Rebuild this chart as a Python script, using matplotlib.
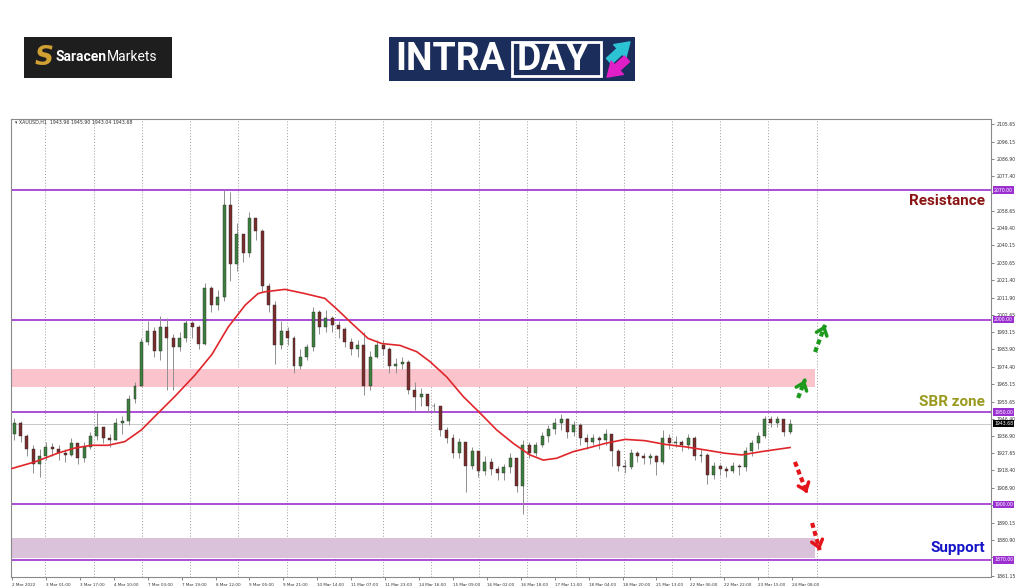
import numpy as np
import matplotlib
matplotlib.use("Agg")
from matplotlib import pyplot as plt
from matplotlib.patches import Rectangle, FancyArrowPatch
from matplotlib.transforms import IdentityTransform

# XAUUSD H1, grouped into 3-hour candles
first_open = 1938
closes = [1944, 1937, 1930, 1922, 1926, 1931, 1930, 1928, 1927, 1933,
          1925, 1931, 1937, 1942, 1936, 1935, 1944, 1945, 1957, 1964,
          1988, 1994, 1983, 1996, 1990, 1985, 1990, 1998, 1996, 1987,
          2017, 2008, 2012, 2062, 2030, 2046, 2036, 2055, 2048, 2018,
          2008, 1986, 1994, 1990, 1975, 1980, 1985, 2004, 1996, 2001,
          1997, 1995, 1988, 1984, 1986, 1964, 1980, 1986, 1984, 1975,
          1976, 1977, 1962, 1958, 1960, 1953, 1953, 1940, 1936, 1928,
          1934, 1921, 1929, 1918, 1923, 1919, 1917, 1920, 1925, 1910,
          1932, 1928, 1932, 1937, 1941, 1944, 1946, 1939, 1943, 1936,
          1934, 1936, 1935, 1938, 1929, 1921, 1920, 1928, 1926, 1925,
          1926, 1923, 1936, 1933, 1934, 1932, 1936, 1926, 1927, 1916,
          1921, 1919, 1918, 1921, 1920, 1929, 1933, 1937, 1946, 1944,
          1946, 1939, 1943.68]
highs = [1947, 1945, 1938, 1932, 1930, 1934, 1933, 1932, 1930, 1936,
         1933, 1934, 1939, 1950, 1942, 1938, 1947, 1948, 1959, 1966,
         1990, 1999, 1996, 2002, 2001, 1992, 1993, 2000, 1999, 1997,
         2020, 2018, 2016, 2070, 2069, 2052, 2043, 2058, 2054, 2049,
         2020, 2010, 1999, 1996, 1991, 1984, 1987, 2007, 2005, 2005,
         2002, 1999, 1996, 1990, 1989, 1993, 1983, 1989, 1989, 1985,
         1979, 1980, 1978, 1966, 1963, 1958, 1955, 1953, 1942, 1938,
         1936, 1932, 1931, 1929, 1926, 1925, 1921, 1922, 1928, 1925,
         1935, 1934, 1934, 1939, 1943, 1947, 1949, 1947, 1945, 1944,
         1938, 1938, 1937, 1941, 1938, 1930, 1924, 1930, 1929, 1928,
         1928, 1927, 1940, 1938, 1937, 1935, 1938, 1937, 1930, 1928,
         1923, 1922, 1921, 1923, 1922, 1931, 1935, 1939, 1948, 1948,
         1948, 1946, 1946]
lows = [1935, 1934, 1926, 1917, 1915, 1924, 1926, 1924, 1923, 1926,
        1922, 1923, 1930, 1935, 1933, 1931, 1936, 1938, 1943, 1955,
        1966, 1986, 1980, 1978, 1962, 1962, 1983, 1988, 1990, 1984,
        1986, 2004, 2005, 2010, 2021, 2026, 2031, 2034, 2043, 2015,
        2004, 1976, 1984, 1986, 1971, 1973, 1978, 1983, 1992, 1993,
        1993, 1990, 1985, 1981, 1980, 1959, 1962, 1979, 1981, 1971,
        1971, 1973, 1960, 1951, 1953, 1950, 1950, 1937, 1933, 1925,
        1925, 1907, 1919, 1915, 1916, 1916, 1913, 1913, 1917, 1907,
        1895, 1925, 1926, 1931, 1934, 1938, 1940, 1936, 1937, 1932,
        1930, 1932, 1930, 1932, 1921, 1918, 1917, 1919, 1923, 1922,
        1922, 1916, 1922, 1930, 1931, 1929, 1930, 1924, 1923, 1911,
        1914, 1916, 1915, 1917, 1916, 1918, 1926, 1930, 1936, 1942,
        1942, 1937, 1938]

# moving average (bar index, price)
ma_bars = [0, 10.7, 21.7, 29.6, 37.3, 45.3, 53.2, 61, 68.9, 76.7, 86.3, 94.2,
           102, 110, 116, 119.3, 128.8, 138.2, 147.6, 153.8, 160.2, 167.9,
           174.4, 183, 190.9, 197.2, 205, 212.9, 220.8, 228.6, 236.5, 244.3,
           250.6, 256.9, 264.8, 272.6, 279.7, 289.2, 298.6, 308, 317.5,
           326.9, 336.3, 344.2, 353.6, 367]
ma_vals = [1919.5, 1923, 1927.8, 1930.5, 1932, 1932, 1934, 1940.3, 1949.4,
           1958.3, 1970, 1981, 1996, 2007.8, 2014, 2015, 2016.3, 2014,
           2011.4, 2005, 1998, 1989.8, 1987, 1986, 1982.6, 1977.2, 1969,
           1958.3, 1949.4, 1940.3, 1933, 1926.8, 1924, 1925, 1928.6, 1930.8,
           1933, 1935.2, 1934.5, 1932.5, 1931.2, 1929.5, 1927.7, 1926.8,
           1928.6, 1930.8]

time_labels = ["2 Mar 2022", "3 Mar 01:00", "3 Mar 17:00", "4 Mar 10:00",
               "7 Mar 03:00", "7 Mar 19:00", "8 Mar 12:00", "9 Mar 05:00",
               "9 Mar 21:00", "10 Mar 14:00", "11 Mar 07:00", "11 Mar 23:00",
               "14 Mar 16:00", "15 Mar 09:00", "16 Mar 02:00", "16 Mar 18:00",
               "17 Mar 11:00", "18 Mar 04:00", "18 Mar 20:00", "21 Mar 13:00",
               "22 Mar 06:00", "22 Mar 22:00", "23 Mar 15:00", "24 Mar 08:00"]
day_starts = [15.7, 38.7, 61.3, 84, 106.8, 129.6, 152.4, 174.9, 197.6, 220.4,
              243, 265.9, 288.8, 311.5, 334.1, 356.8, 379.5]
price_ticks = [2105.65, 2096.15, 2086.90, 2077.40, 2068.15, 2058.65, 2049.40,
               2040.15, 2030.65, 2021.40, 2011.90, 2002.65, 1993.15, 1983.90,
               1974.40, 1965.15, 1955.65, 1946.40, 1936.90, 1927.65, 1918.40,
               1908.90, 1899.65, 1890.15, 1880.90, 1871.40, 1861.15]
hidden_ticks = [2068.15, 1899.65, 1871.40]  # sit under the level boxes
levels = [2070, 2000, 1950, 1900, 1870]
last_price = 1943.68
sbr_zone = (1963.5, 1973.5)
support_zone = (1871, 1882)
zone_end = 378.8

PURPLE = "#9b30d0"


def draw_candles(ax):
    opens = [first_open] + closes[:-1]
    xs = np.arange(len(closes)) * 3 + 1
    for x, o, h, l, c in zip(xs, opens, highs, lows, closes):
        h = max(h, o, c)
        l = min(l, o, c)
        up = c >= o
        ax.vlines(x, l, h, color="#8f8f8f", lw=0.7, zorder=3)
        bottom = min(o, c)
        height = max(abs(c - o), 0.4)
        ax.bar(x, height, bottom=bottom, width=1.4,
               color="#3d7f3d" if up else "#7b2c2c",
               edgecolor="#2b2b2b", linewidth=0.3, zorder=4)


def draw_arrow(ax, tail, head, color):
    ax.plot([tail[0], head[0]], [tail[1], head[1]], color=color, lw=3,
            ls=(0, (1.2, 0.8)), solid_capstyle="butt", zorder=6)
    back = (head[0] - (head[0] - tail[0]) * 0.15, head[1] - (head[1] - tail[1]) * 0.15)
    ax.annotate("", xy=head, xytext=back,
                arrowprops=dict(arrowstyle="->,head_length=0.5,head_width=0.4",
                                color=color, lw=2.5), zorder=6)


fig = plt.figure(figsize=(10.24, 5.87), dpi=100)
fig.patch.set_facecolor("white")
ax = fig.add_axes([11 / 1024, 1 - 577 / 587, 980 / 1024, 458 / 587])
ax.set_xlim(-0.5, 461.8)
ax.set_ylim(1860.8, 2108.4)

for d in day_starts:
    ax.axvline(d, color="#9a9a9a", lw=0.7, ls=(0, (1, 2)), zorder=1)

ax.add_patch(Rectangle((-0.5, sbr_zone[0]), zone_end + 0.5, sbr_zone[1] - sbr_zone[0],
                       facecolor="#fbc3cc", edgecolor="none", zorder=1.5))
ax.add_patch(Rectangle((-0.5, support_zone[0]), zone_end + 0.5, support_zone[1] - support_zone[0],
                       facecolor="#d9c2da", edgecolor="none", zorder=1.5))

ax.axhline(last_price, color="#c8c8c8", lw=0.7, zorder=2)
for lv in levels:
    ax.axhline(lv, color=PURPLE, lw=1.2, zorder=2.5)

draw_candles(ax)
ax.plot(ma_bars, ma_vals, color="#e0262a", lw=1.2, zorder=5)

draw_arrow(ax, (370.8, 1957.6), (374, 1967.3), "#1d9a1d")
draw_arrow(ax, (378.8, 1982.4), (383.5, 1997), "#1d9a1d")
draw_arrow(ax, (369.3, 1923), (375, 1906.2), "#e3141a")
draw_arrow(ax, (377.4, 1890), (381, 1875.4), "#e3141a")

ax.text(459, 2070 - 6, "Resistance", ha="right", va="center", fontsize=11,
        fontweight="bold", family="Roboto", color="#8b1414")
ax.text(459, 1950 + 5.5, "SBR zone", ha="right", va="center", fontsize=11,
        fontweight="bold", family="Roboto", color="#9a9a20")
ax.text(459, 1870 + 6.5, "Support", ha="right", va="center", fontsize=11,
        fontweight="bold", family="Roboto", color="#1515c8")

ax.text(1.5, 2106.5, "\u25be XAUUSD,H1  1943.96 1945.90 1943.04 1943.68",
        fontsize=3.4, color="#333333", va="center", zorder=7)

# axes / ticks
for sp in ax.spines.values():
    sp.set_color("#8a8a8a")
    sp.set_linewidth(0.8)
ax.set_xticks(np.arange(len(time_labels)) * 16)
ax.set_xticklabels(time_labels, fontsize=3.0, color="#333333", ha="left")
ax.tick_params(axis="x", length=2, width=0.5, pad=2, colors="#555555")
ax.yaxis.tick_right()
ax.set_yticks(price_ticks)
ax.set_yticklabels(["" if p in hidden_ticks else f"{p:.2f}" for p in price_ticks],
                   fontsize=3.3)
ax.tick_params(axis="y", length=2, width=0.5, pad=2, colors="#555555")
for lbl in ax.get_xticklabels() + ax.get_yticklabels():
    lbl.set_color("#333333")

for lv in levels:
    ax.text(1.003, lv, f"{lv:.2f}", transform=ax.get_yaxis_transform(),
            fontsize=3.3, color="white", va="center", ha="left", zorder=8, clip_on=False,
            bbox=dict(boxstyle="square,pad=0.25", facecolor=PURPLE, edgecolor="none"))
ax.text(1.003, last_price, f"{last_price:.2f}", transform=ax.get_yaxis_transform(),
        fontsize=3.3, color="white", va="center", ha="left", zorder=8, clip_on=False,
        bbox=dict(boxstyle="square,pad=0.25", facecolor="black", edgecolor="none"))

# header logos
fig.patches.append(Rectangle((24, 587 - 78), 148, 41, transform=IdentityTransform(),
                             facecolor="#1e1e1e", edgecolor="none"))
fig.text(35 / 1024, 1 - 58 / 587, "S", fontsize=19, fontweight="bold", style="italic",
         color="#d1a032", ha="left", va="center")
fig.text(56 / 1024, 1 - 57 / 587, "Saracen", fontsize=10, fontweight="bold",
         family="Roboto", color="white", ha="left", va="center")
fig.text(106.5 / 1024, 1 - 57 / 587, "Markets", fontsize=10,
         family="Roboto", color="white", ha="left", va="center")

fig.patches.append(Rectangle((389, 587 - 81), 246, 44, transform=IdentityTransform(),
                             facecolor="#1b2d5b", edgecolor="none"))
fig.patches.append(Rectangle((512, 587 - 76), 89, 34, transform=IdentityTransform(),
                             facecolor="none", edgecolor="white", linewidth=2))
fig.text(395 / 1024, 1 - 59.5 / 587, "INTRA", fontsize=27, fontweight="bold",
         family="Roboto", color="white", ha="left", va="center")
fig.text(517 / 1024, 1 - 59.5 / 587, "DAY", fontsize=27, fontweight="bold",
         family="Roboto", color="white", ha="left", va="center")
fig.add_artist(FancyArrowPatch(
    (607, 587 - 63), (632, 587 - 40), transform=IdentityTransform(),
    arrowstyle="simple,head_width=1.3,head_length=1.0,tail_width=0.55",
    mutation_scale=10, color="#2cc3d5", zorder=5))
fig.add_artist(FancyArrowPatch(
    (629, 587 - 57), (605, 587 - 79), transform=IdentityTransform(),
    arrowstyle="simple,head_width=1.3,head_length=1.0,tail_width=0.55",
    mutation_scale=10, color="#e11fc6", zorder=5))

fig.savefig("out.png", dpi=100)
